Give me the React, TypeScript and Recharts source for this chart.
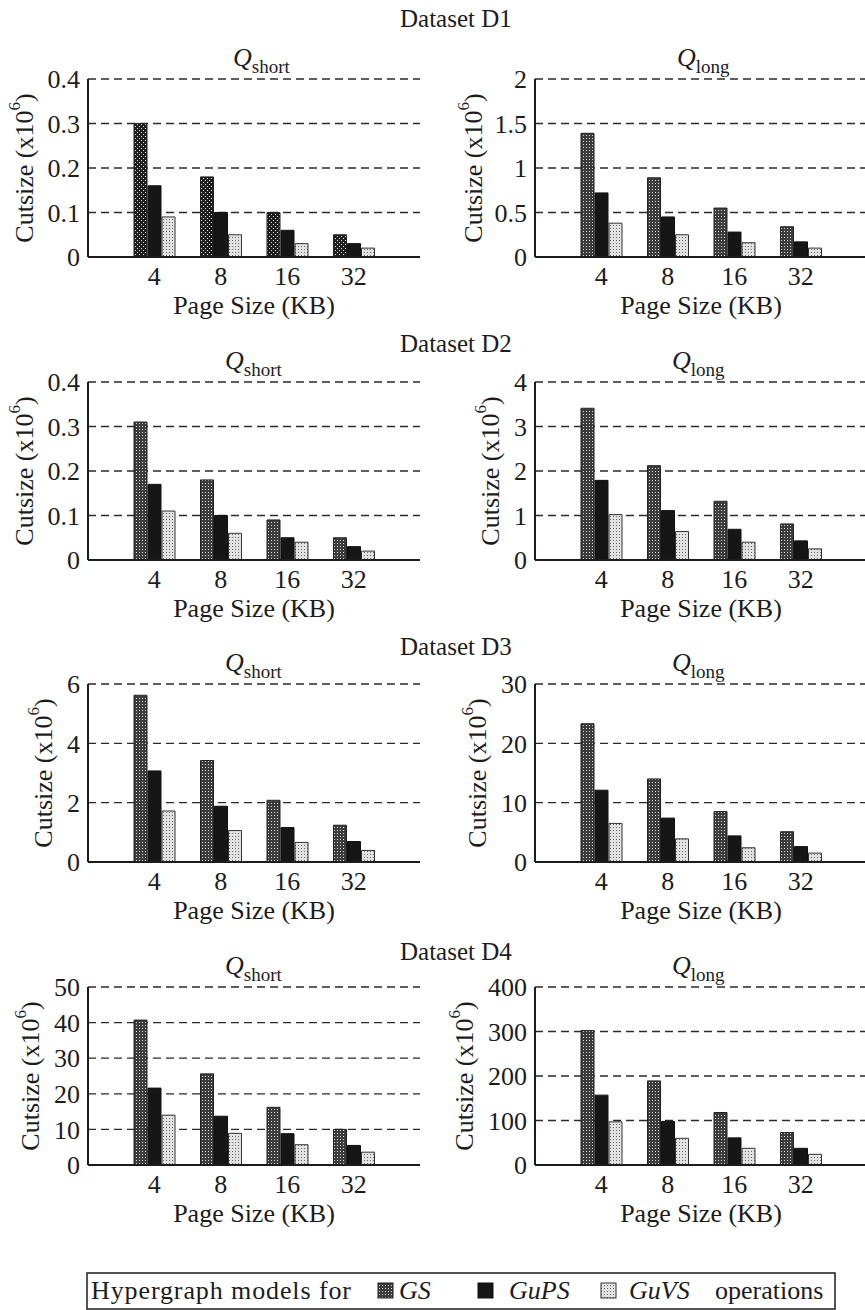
import React from 'react';
import { BarChart, Bar, XAxis, YAxis, CartesianGrid } from 'recharts';

const pageSizes = ['4', '8', '16', '32'];

// Dataset D1
const d1ShortGS = [0.3, 0.18, 0.1, 0.05];
const d1ShortGuPS = [0.16, 0.1, 0.06, 0.03];
const d1ShortGuVS = [0.09, 0.05, 0.03, 0.02];
const d1LongGS = [1.39, 0.89, 0.55, 0.34];
const d1LongGuPS = [0.72, 0.45, 0.28, 0.17];
const d1LongGuVS = [0.38, 0.25, 0.16, 0.1];

// Dataset D2
const d2ShortGS = [0.31, 0.18, 0.09, 0.05];
const d2ShortGuPS = [0.17, 0.1, 0.05, 0.03];
const d2ShortGuVS = [0.11, 0.06, 0.04, 0.02];
const d2LongGS = [3.41, 2.12, 1.32, 0.81];
const d2LongGuPS = [1.79, 1.11, 0.69, 0.43];
const d2LongGuVS = [1.02, 0.64, 0.4, 0.25];

// Dataset D3
const d3ShortGS = [5.62, 3.42, 2.08, 1.24];
const d3ShortGuPS = [3.07, 1.88, 1.16, 0.69];
const d3ShortGuVS = [1.72, 1.06, 0.66, 0.39];
const d3LongGS = [23.3, 14.0, 8.5, 5.1];
const d3LongGuPS = [12.1, 7.4, 4.4, 2.6];
const d3LongGuVS = [6.5, 3.9, 2.4, 1.5];

// Dataset D4
const d4ShortGS = [40.7, 25.6, 16.2, 10.0];
const d4ShortGuPS = [21.6, 13.7, 8.8, 5.5];
const d4ShortGuVS = [14.0, 8.9, 5.7, 3.6];
const d4LongGS = [302, 189, 118, 73];
const d4LongGuPS = [157, 98, 61, 37.5];
const d4LongGuVS = [97, 60, 37.5, 24];

const ticksD1Short = [0, 0.1, 0.2, 0.3, 0.4];
const ticksD1Long = [0, 0.5, 1, 1.5, 2];
const ticksD2Short = [0, 0.1, 0.2, 0.3, 0.4];
const ticksD2Long = [0, 1, 2, 3, 4];
const ticksD3Short = [0, 2, 4, 6];
const ticksD3Long = [0, 10, 20, 30];
const ticksD4Short = [0, 10, 20, 30, 40, 50];
const ticksD4Long = [0, 100, 200, 300, 400];

const datasetTitles = ['Dataset D1', 'Dataset D2', 'Dataset D3', 'Dataset D4'];

const FONT = "'Liberation Serif', 'Times New Roman', Times, serif";
const INK = '#1c1c1c';
const rowTops = [79, 382, 684, 987];
const titleBaselines = [27, 352, 655, 960];
const PLOT_H = 178;
const TOP_PAD = 20;

const panels = [
  { row: 0, col: 0, gs: d1ShortGS, gups: d1ShortGuPS, guvs: d1ShortGuVS, ticks: ticksD1Short, labelX: 24, gsPat: 'patGSDense' },
  { row: 0, col: 1, gs: d1LongGS, gups: d1LongGuPS, guvs: d1LongGuVS, ticks: ticksD1Long, labelX: 473, gsPat: 'patGS' },
  { row: 1, col: 0, gs: d2ShortGS, gups: d2ShortGuPS, guvs: d2ShortGuVS, ticks: ticksD2Short, labelX: 24, gsPat: 'patGS' },
  { row: 1, col: 1, gs: d2LongGS, gups: d2LongGuPS, guvs: d2LongGuVS, ticks: ticksD2Long, labelX: 490, gsPat: 'patGS' },
  { row: 2, col: 0, gs: d3ShortGS, gups: d3ShortGuPS, guvs: d3ShortGuVS, ticks: ticksD3Short, labelX: 43, gsPat: 'patGS' },
  { row: 2, col: 1, gs: d3LongGS, gups: d3LongGuPS, guvs: d3LongGuVS, ticks: ticksD3Long, labelX: 477, gsPat: 'patGS' },
  { row: 3, col: 0, gs: d4ShortGS, gups: d4ShortGuPS, guvs: d4ShortGuVS, ticks: ticksD4Short, labelX: 30, gsPat: 'patGS' },
  { row: 3, col: 1, gs: d4LongGS, gups: d4LongGuPS, guvs: d4LongGuVS, ticks: ticksD4Long, labelX: 464, gsPat: 'patGS' },
];

const tickStyle = { fill: INK, fontSize: 26, fontFamily: FONT, style: { fontFamily: FONT } };
const frame = { stroke: INK, strokeWidth: 2 };
const txt = { fontFamily: FONT };

function Panel({ p }: { p: any }) {
  const data = pageSizes.map((size, i) => ({ size, gs: p.gs[i], gups: p.gups[i], guvs: p.guvs[i] }));
  const isLeft = p.col === 0;
  const max = p.ticks[p.ticks.length - 1];
  return (
    <div style={{ position: 'absolute', left: isLeft ? 0 : 432, top: rowTops[p.row] - TOP_PAD }}>
      <BarChart
        width={isLeft ? 432 : 435}
        height={PLOT_H + TOP_PAD + 66}
        data={data}
        margin={{ top: TOP_PAD, right: isLeft ? 12 : 0, bottom: 0, left: 0 }}
        barSize={13}
        barGap={1}
      >
        <CartesianGrid vertical={false} stroke="#2a2a2a" strokeWidth={1.3} strokeDasharray="8 5" />
        <XAxis dataKey="size" padding={{ left: 33, right: 33 }} height={66} tickSize={0} tickMargin={10}
          axisLine={frame} tick={tickStyle} interval={0} />
        <XAxis xAxisId="top" orientation="top" height={0} tick={false} tickLine={false} axisLine={frame} />
        <YAxis width={isLeft ? 88 : 103} domain={[0, max]} ticks={p.ticks} tickSize={0} tickMargin={8}
          axisLine={frame} tick={tickStyle} interval={0} />
        <YAxis yAxisId="right" orientation="right" width={0} domain={[0, max]} tick={false} tickLine={false} axisLine={frame} />
        <Bar dataKey="gs" fill={`url(#${p.gsPat})`} stroke="#222" strokeWidth={1} isAnimationActive={false} />
        <Bar dataKey="gups" fill="#161616" stroke="#111" strokeWidth={1} isAnimationActive={false} />
        <Bar dataKey="guvs" fill="url(#patGuVS)" stroke="#333" strokeWidth={1} isAnimationActive={false} />
      </BarChart>
    </div>
  );
}

function Overlay() {
  return (
    <svg width={865} height={1310} style={{ position: 'absolute', left: 0, top: 0, pointerEvents: 'none', fontFamily: FONT }}
      fill={INK}>
      <defs>
        <pattern id="patGS" width="3" height="3" patternUnits="userSpaceOnUse">
          <rect width="3" height="3" fill="#3c3c3c" />
          <rect x="1" y="1" width="1" height="1" fill="#d8d8d8" />
        </pattern>
        <pattern id="patGSDense" width="4" height="4" patternUnits="userSpaceOnUse">
          <rect width="4" height="4" fill="#1e1e1e" />
          <rect x="1" y="1" width="1" height="1" fill="#e0e0e0" />
          <rect x="3" y="3" width="1" height="1" fill="#e0e0e0" />
        </pattern>
        <pattern id="patGuVS" width="3" height="3" patternUnits="userSpaceOnUse">
          <rect width="3" height="3" fill="#e2e2e2" />
          <rect x="1" y="1" width="1" height="1" fill="#6a6a6a" />
        </pattern>
      </defs>

      {datasetTitles.map((t, i) => (
        <text key={t} x={400} y={titleBaselines[i]} fontSize={25} style={txt}>{t}</text>
      ))}

      {rowTops.map((top, r) => (
        <g key={'q' + r}>
          <text x={r === 0 ? 233 : 225} y={top - 13} style={txt}>
            <tspan fontStyle="italic" fontSize={26}>Q</tspan>
            <tspan fontSize={19} dy={7}>short</tspan>
          </text>
          <text x={r === 0 ? 677 : 672} y={top - 13} style={txt}>
            <tspan fontStyle="italic" fontSize={26}>Q</tspan>
            <tspan fontSize={19} dy={7}>long</tspan>
          </text>
        </g>
      ))}

      {panels.map((p, i) => {
        const top = rowTops[p.row];
        const plotCx = p.col === 0 ? 254 : 701;
        return (
          <g key={'lab' + i}>
            <text transform={`translate(${p.labelX},${top + PLOT_H / 2}) rotate(-90)`} textAnchor="middle"
              dominantBaseline="central" fontSize={26} style={txt}>
              Cutsize (x10<tspan fontSize={17} dy={-10}>6</tspan><tspan dy={10}>)</tspan>
            </text>
            <text x={plotCx} y={top + PLOT_H + 57} textAnchor="middle" fontSize={26} style={txt}>Page Size (KB)</text>
          </g>
        );
      })}

      <rect x={87} y={1273} width={748} height={36} fill="none" stroke={INK} strokeWidth={1.5} />
      <text x={91} y={1299} fontSize={26} style={txt} textLength={260} lengthAdjust="spacing">Hypergraph models for</text>
      <rect x={378} y={1283} width={15} height={15} fill="url(#patGS)" stroke="#222" strokeWidth={1} />
      <text x={399} y={1299} fontSize={26} fontStyle="italic" style={txt}>GS</text>
      <rect x={478} y={1283} width={15} height={15} fill="#161616" stroke="#111" strokeWidth={1} />
      <text x={509} y={1299} fontSize={26} fontStyle="italic" style={txt}>GuPS</text>
      <rect x={601} y={1283} width={15} height={15} fill="url(#patGuVS)" stroke="#333" strokeWidth={1} />
      <text x={629} y={1299} fontSize={26} fontStyle="italic" style={txt}>GuVS</text>
      <text x={715} y={1299} fontSize={26} style={txt}>operations</text>
    </svg>
  );
}

export default function App() {
  return (
    <div style={{ position: 'absolute', left: 0, top: 0, width: 865, height: 1310, overflow: 'hidden', background: '#fff' }}>
      <style>{'body{margin:0;overflow:hidden}'}</style>
      {panels.map((p, i) => <Panel key={i} p={p} />)}
      <Overlay />
    </div>
  );
}
